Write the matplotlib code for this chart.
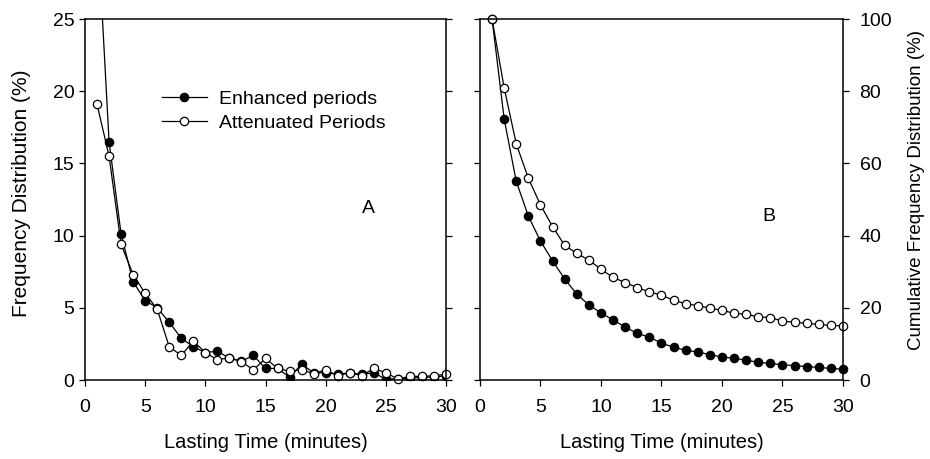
import matplotlib
matplotlib.use('Agg')
import matplotlib.pyplot as plt

plt.rcParams['font.family'] = ['Liberation Sans', 'DejaVu Sans']
plt.rcParams['font.size'] = 14

# lasting time, minutes
minutes = list(range(1, 31))

# panel A: frequency distribution (%)
enhanced_freq = [32, 16.5, 10.1, 6.8, 5.5, 5.0, 4.0, 2.9, 2.3, 1.9,
                 2.0, 1.5, 1.3, 1.7, 0.8, 0.8, 0.2, 1.1, 0.5, 0.5,
                 0.4, 0.5, 0.4, 0.5, 0.05, 0.1, 0.1, 0.2, 0.2, 0.3]
attenuated_freq = [19.1, 15.5, 9.4, 7.3, 6.0, 4.9, 2.3, 1.7, 2.7, 1.9,
                   1.4, 1.55, 1.27, 0.7, 1.5, 0.8, 0.6, 0.7, 0.45, 0.7,
                   0.3, 0.5, 0.3, 0.8, 0.5, 0.07, 0.25, 0.25, 0.3, 0.4]

# panel B: cumulative frequency distribution (%)
enhanced_cum = [100, 72.3, 55.0, 45.4, 38.5, 33.0, 28.0, 23.8, 20.8, 18.6,
                16.6, 14.7, 12.9, 11.9, 10.2, 9.1, 8.2, 7.8, 7.0, 6.4,
                6.0, 5.5, 4.9, 4.6, 4.2, 4.0, 3.7, 3.5, 3.2, 3.0]
attenuated_cum = [100, 80.9, 65.4, 55.9, 48.5, 42.5, 37.3, 35.1, 33.2, 30.7,
                  28.4, 27.0, 25.6, 24.4, 23.5, 22.1, 21.1, 20.6, 19.9, 19.3,
                  18.5, 18.2, 17.5, 17.3, 16.3, 16.0, 15.7, 15.4, 15.1, 15.0]

fig = plt.figure(figsize=(9.3, 4.59), dpi=100)
axA = fig.add_axes([0.0914, 0.1721, 0.3882, 0.7865])
axB = fig.add_axes([0.5161, 0.1721, 0.3903, 0.7865])

filled = dict(color='black', lw=0.9, marker='o', ms=6, mfc='black', mec='black', mew=0.9)
hollow = dict(color='black', lw=0.9, marker='o', ms=6, mfc='white', mec='black', mew=0.9)

axA.plot(minutes, enhanced_freq, label='Enhanced periods', clip_on=True, **filled)
axA.plot(minutes, attenuated_freq, label='Attenuated Periods', clip_on=False, **hollow)
axA.set_xlim(0, 30)
axA.set_ylim(0, 25)
axA.set_xticks(range(0, 31, 5))
axA.set_yticks(range(0, 26, 5))
axA.set_ylabel('Frequency Distribution (%)', fontsize=15, labelpad=16)
axA.yaxis.label.set_y(0.518)
axA.set_xlabel('Lasting Time (minutes)', fontsize=14.5, labelpad=12)
axA.tick_params(axis='both', direction='out', length=4, width=0.9, right=True, top=False)
axA.tick_params(axis='x', pad=10)
axA.text(23.0, 11.6, 'A', fontsize=14)
axA.legend(loc='upper left', bbox_to_anchor=(0.186, 0.829), frameon=False, borderpad=0,
           handlelength=2.3, handletextpad=0.65, labelspacing=0.3, fontsize=14)

axB.plot(minutes, enhanced_cum, clip_on=False, **filled)
axB.plot(minutes, attenuated_cum, clip_on=False, **hollow)
axB.set_xlim(0, 30)
axB.set_ylim(0, 100)
axB.set_xticks(range(0, 31, 5))
axB.set_yticks(range(0, 101, 20))
axB.yaxis.tick_right()
axB.yaxis.set_label_position('right')
axB.set_ylabel('Cumulative Frequency Distribution (%)', fontsize=13.5, labelpad=11)
axB.yaxis.label.set_y(0.526)
axB.set_xlabel('Lasting Time (minutes)', fontsize=14.5, labelpad=12)
axB.tick_params(axis='both', direction='out', length=4, width=0.9, left=True, right=True,
                top=False, labelleft=False, labelright=True)
axB.tick_params(axis='x', pad=10)
axB.tick_params(axis='y', pad=8)
axB.text(23.3, 44, 'B', fontsize=14)

for ax in (axA, axB):
    for s in ax.spines.values():
        s.set_linewidth(1.1)

fig.savefig('out.png', dpi=100)
